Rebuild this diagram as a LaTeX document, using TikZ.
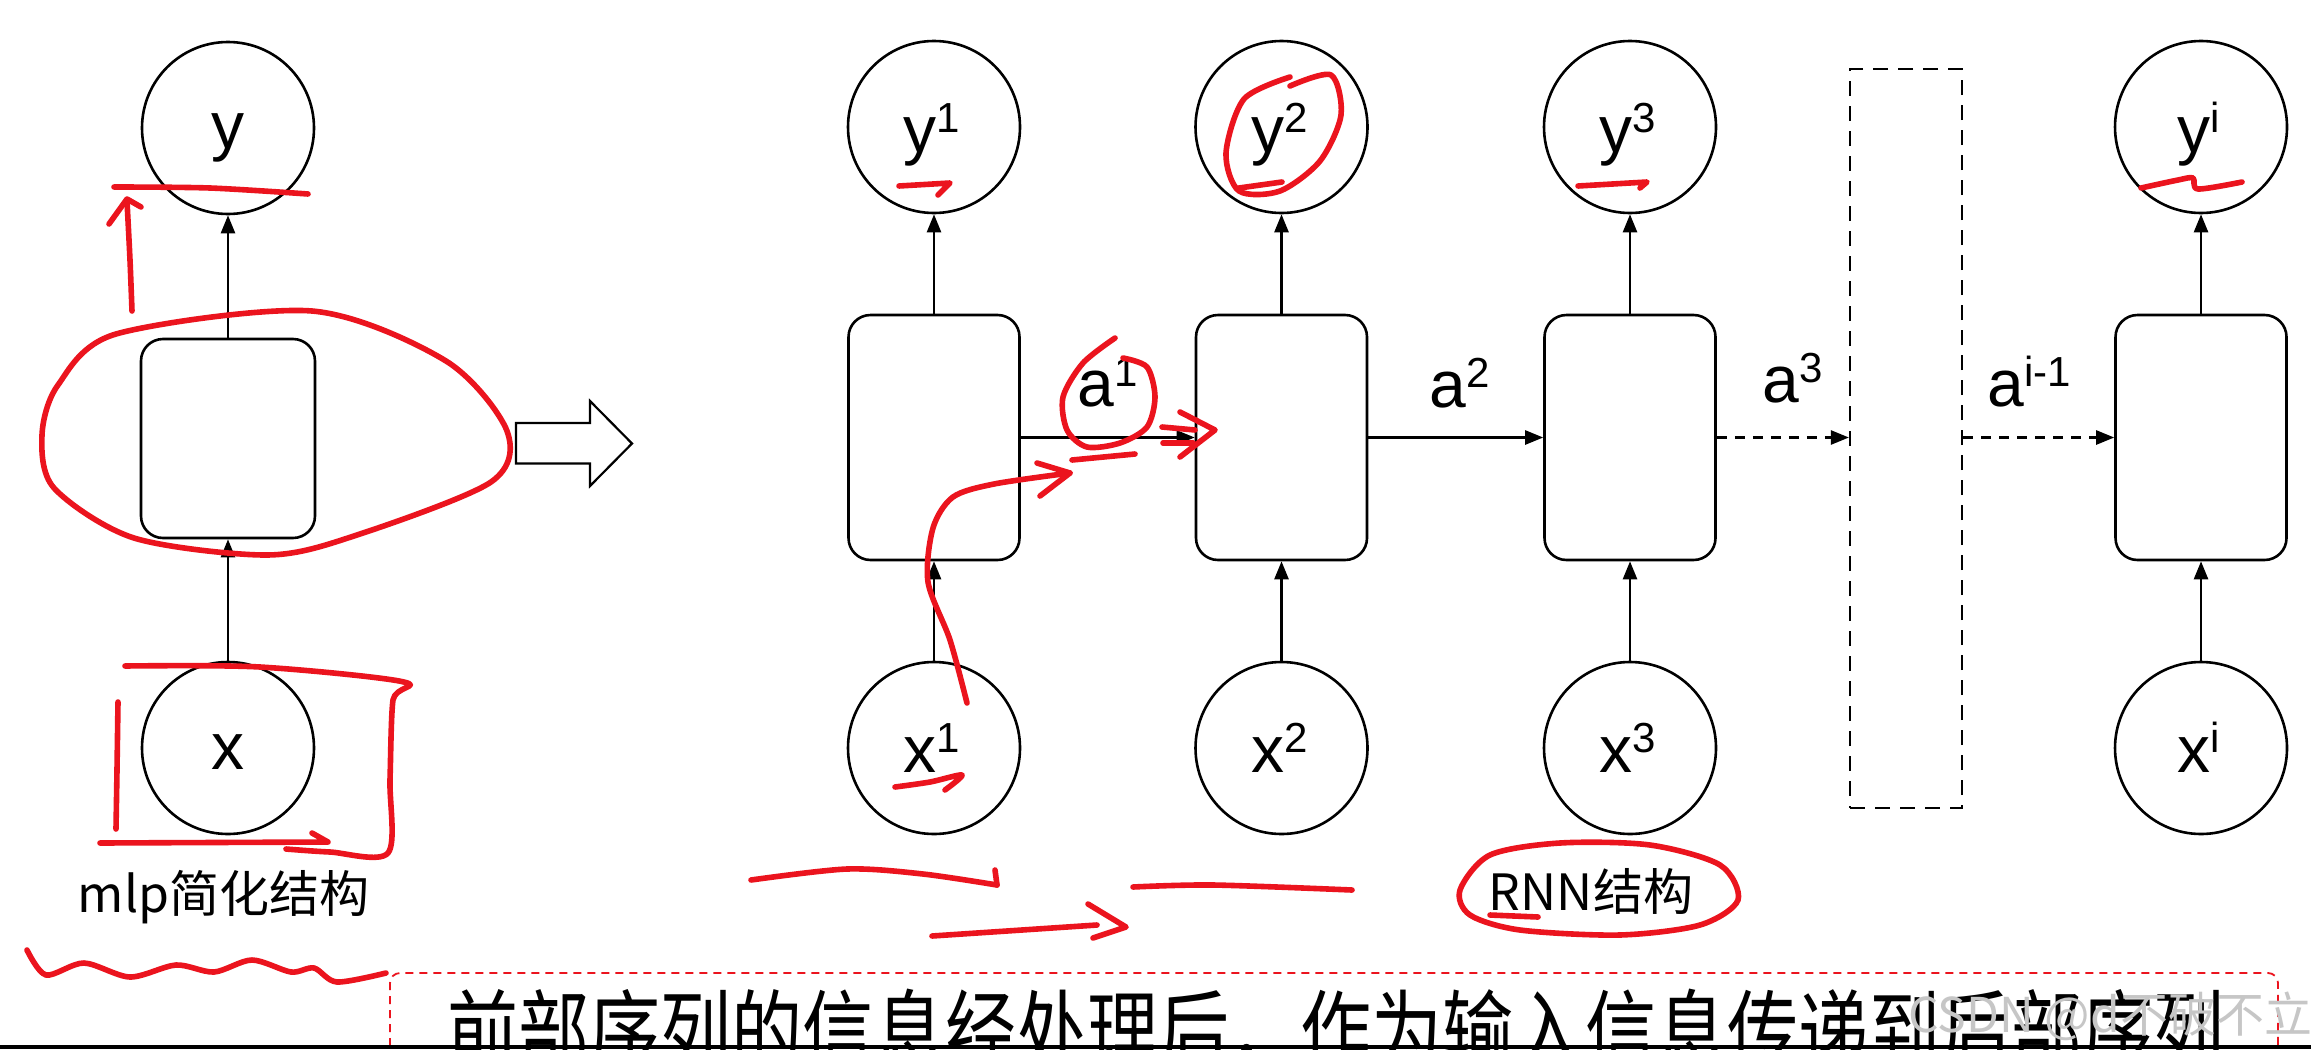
\documentclass[tikz,border=0pt]{standalone}
\usepackage{fontspec}
\setmainfont{Liberation Sans}
\newfontfamily\cjk{Noto Sans CJK SC}
\usetikzlibrary{arrows.meta}
\newcommand{\supr}[1]{\raisebox{10pt}{\fontsize{21}{21}\selectfont #1}}
\definecolor{penred}{RGB}{235,20,30}
\begin{document}
\begin{tikzpicture}[x=0.5pt,y=-0.5pt,
  circ/.style={circle,draw,line width=1.3pt,minimum size=86pt,inner sep=0pt},
  cell/.style={rectangle,rounded corners=11pt,draw,line width=1.3pt,minimum width=85.5pt,minimum height=122.5pt,inner sep=0pt},
  mcell/.style={cell,minimum width=87pt,minimum height=99.5pt},
  lbl/.style={anchor=base,inner sep=0pt,font=\fontsize{33}{33}\selectfont},
  captxt/.style={anchor=base,inner sep=0pt,font=\cjk\fontsize{25}{25}\selectfont},
  arr/.style={line width=1.25pt,-{Triangle[length=9pt,width=7pt]}},
  darr/.style={arr,dash pattern=on 5pt off 4pt},
  redpen/.style={draw=penred,line width=2.8pt,line cap=round,line join=round}
]
\useasboundingbox (0,0) rectangle (2311,1049);
\clip (0,0) rectangle (2311,1049);
\fill[white] (0,0) rectangle (2311,1049);

% ---- left: mlp
\node[circ] (y0) at (228,128) {};
\node[lbl] (ty0) at (228,148) {y};
\node[mcell] (b0) at (228,438.5) {};
\node[circ] (x0) at (228,748) {};
\node[lbl] (tx0) at (228,769) {x};
\draw[arr] (b0) -- (y0);
\draw[arr] (x0) -- (b0);
\node[captxt] (mlp) at (223.5,912) {mlp简化结构};

% hollow arrow
\draw[line width=1.1pt,fill=white] (516,423) -- (590,423) -- (590,401) -- (632,443.5) -- (590,486) -- (590,463.5) -- (516,463.5) -- cycle;

% ---- RNN
\foreach \i/\cx in {1/934,2/1281.5,3/1630,4/2201} {
  \node[circ] (y\i) at (\cx,127) {};
  \node[cell] (b\i) at (\cx,437.5) {};
  \node[circ] (x\i) at (\cx,748) {};
  \draw[arr] (b\i) -- (y\i);
  \draw[arr] (x\i) -- (b\i);
}
\node[lbl] (ty1) at (932,152) {y\supr{1}};
\node[lbl] (ty2) at (1280,152) {y\supr{2}};
\node[lbl] (ty3) at (1628,152) {y\supr{3}};
\node[lbl] (ty4) at (2199,152) {y\supr{i}};
\node[lbl] (tx1) at (932,772) {x\supr{1}};
\node[lbl] (tx2) at (1280,772) {x\supr{2}};
\node[lbl] (tx3) at (1628,772) {x\supr{3}};
\node[lbl] (tx4) at (2199,772) {x\supr{i}};

\node[draw,dash pattern=on 7.5pt off 5pt,line width=1.1pt,minimum width=56pt,minimum height=369.5pt,inner sep=0pt] (dr) at (1906,438.5) {};

\draw[arr] (b1) -- (b2);
\draw[arr] (b2) -- (b3);
\draw[darr] (b3.east) -- (b3.east -| dr.west);
\draw[darr] (dr.east |- b4.west) -- (b4.west);

\node[lbl] (ta1) at (1108,406) {a\supr{1}};
\node[lbl] (ta2) at (1460,407) {a\supr{2}};
\node[lbl] (ta3) at (1793,402) {a\supr{3}};
\node[lbl] (ta4) at (2029,406) {a\supr{i-1}};

\node[captxt] (rnn) at (1591,910) {RNN结构};

% ---- bottom banner
\draw[penred,line width=0.9pt,dash pattern=on 4pt off 3pt,rounded corners=5pt] (390,1060) -- (390,973) -- (2278,973) -- (2278,1060);
\node[anchor=base west,inner sep=0pt,font=\cjk\fontsize{45}{45}\selectfont] (bt) at (447,1065) {\scalebox{0.79}[1]{前部序列的信息经处理后，作为输入信息传递到后部序列}};
\node[anchor=base west,inner sep=0pt,text=gray!45,font=\cjk\fontsize{24}{24}\selectfont] (wm) at (1908,1032) {CSDN @d不破不立};
\fill[black] (0,1045) rectangle (2311,1049);

% ---- red hand annotations
\draw[redpen] plot[smooth] coordinates {(114,187)(210,188)(308,194)};
\draw[redpen] plot[smooth] coordinates {(132,311)(130,260)(127,201)};
\draw[redpen] (109,224) -- (127,199) -- (141,207);
\draw[redpen] plot[smooth cycle] coordinates {(116,334)(312,311)(446,361)(507,431)(491,482)(357,535)(268,555)(134,538)(54,488)(42,435)(58,385)};
\draw[redpen] plot[smooth] coordinates {(125,666)(260,667)(404,682)(393,700)(390,780)(388,853)(330,852)(286,849)};
\draw[redpen] plot[smooth] coordinates {(118,702)(117,770)(116,829)};
\draw[redpen] (100,843) -- (328,842) -- (312,833);
\draw[redpen] plot[smooth] coordinates {(27,950)(46,975)(84,963)(130,977)(176,965)(214,972)(252,960)(291,972)(314,968)(337,982)(386,973)};
\draw[redpen] (899,186) -- (950,183) -- (938,195);
\draw[redpen] plot[smooth] coordinates {(1290,86)(1331,75)(1341,115)(1320,161)(1280,191)(1239,191)(1226,153)(1244,99)(1290,77)};
\draw[redpen] (1239,188) -- (1282,182);
\draw[redpen] (1578,186) -- (1647,182) -- (1640,188);
\draw[redpen] plot[smooth] coordinates {(2141,188)(2178,180)(2193,178)(2198,189)(2242,182)};
\draw[redpen] plot[smooth] coordinates {(1115,338)(1083,363)(1063,397)(1067,430)(1087,447)(1120,443)(1147,427)(1155,397)(1147,367)(1123,358)};
\draw[redpen] (1072,460) -- (1135,454);
\draw[redpen] (1162,427) -- (1195,430);
\draw[redpen] (1163,443) -- (1193,443);
\draw[redpen] (1180,412) -- (1215,430) -- (1180,457);
\draw[redpen] plot[smooth] coordinates {(967,703)(950,640)(928,582)(933,528)(953,497)(994,484)(1070,473)};
\draw[redpen] (1037,463) -- (1070,473) -- (1040,496);
\draw[redpen] plot[smooth] coordinates {(895,787)(930,782)(962,775)(945,790)};
\draw[redpen] plot[smooth] coordinates {(751,880)(847,869)(923,874)(997,885)};
\draw[redpen] (997,885) -- (995,870);
\draw[redpen] (932,936) -- (1097,925);
\draw[redpen] (1088,904) -- (1126,927) -- (1093,938);
\draw[redpen] plot[smooth] coordinates {(1133,887)(1213,885)(1352,890)};
\draw[redpen] plot[smooth cycle] coordinates {(1460,890)(1490,855)(1560,843)(1650,845)(1720,865)(1738,900)(1700,925)(1620,935)(1520,930)(1470,915)};
\draw[redpen] (1490,915) -- (1538,917);
\end{tikzpicture}
\end{document}
